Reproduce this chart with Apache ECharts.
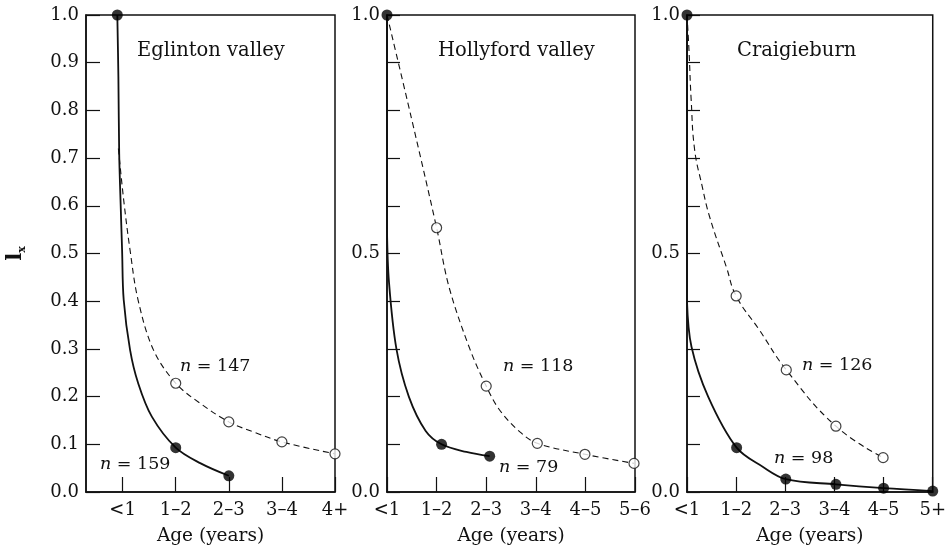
<!DOCTYPE html>
<html>
<head>
<meta charset="utf-8">
<script src="https://cdn.jsdelivr.net/npm/echarts@6/dist/echarts.min.js"></script>
<style>html,body{margin:0;padding:0;background:#fff;}#c{width:949px;height:554px;}</style>
</head>
<body>
<div id="c"></div>
<script>
// ---- tick labels / categories ----
const ageCats1 = ['<1', '1–2', '2–3', '3–4', '4+'];
const ageCats2 = ['<1', '1–2', '2–3', '3–4', '4–5', '5–6'];
const ageCats3 = ['<1', '1–2', '2–3', '3–4', '4–5', '5+'];
const panelTitles = ['Eglinton valley', 'Hollyford valley', 'Craigieburn'];
const yTicks1 = [0, 0.1, 0.2, 0.3, 0.4, 0.5, 0.6, 0.7, 0.8, 0.9, 1.0];
const yLabels23 = [0, 0.5, 1.0];

// ---- Eglinton valley ----
const eglFilled = [[-0.1, 1.0], [1, 0.093], [2, 0.034]];
const eglOpen = [[1, 0.228], [2, 0.147], [3, 0.105], [4, 0.080]];
const eglSolidCurve = [[-0.1, 1.0], [-0.08, 0.87], [-0.065, 0.71], [-0.04, 0.612], [-0.01, 0.507], [0.02, 0.403], [0.14, 0.298], [0.29, 0.229], [0.55, 0.158], [1, 0.093], [1.47, 0.060], [2, 0.034]];
const eglDashCurve = [[-0.08, 0.72], [0.02, 0.612], [0.14, 0.507], [0.29, 0.403], [0.58, 0.298], [1, 0.228], [1.46, 0.186], [2, 0.147], [2.46, 0.126], [3, 0.105], [4, 0.080]];
const eglN = ['147', '159'];

// ---- Hollyford valley ----
const holFilled = [[0, 1.0], [1.1, 0.100], [2.07, 0.075]];
const holOpen = [[1, 0.554], [2, 0.222], [3.03, 0.102], [3.99, 0.079], [4.98, 0.060]];
const holSolidStem = [[0, 1.0], [0, 0.55]];
const holSolidCurve = [[0, 0.55], [0.04, 0.44], [0.19, 0.30], [0.44, 0.20], [0.78, 0.128], [1.1, 0.100], [1.6, 0.084], [2.07, 0.075]];
const holDashCurve = [[0, 1.0], [0.49, 0.785], [1, 0.554], [1.25, 0.43], [1.67, 0.30], [2, 0.222], [2.27, 0.172], [2.68, 0.126], [3.03, 0.102], [3.99, 0.079], [4.98, 0.060]];
const holN = ['118', '79'];

// ---- Craigieburn ----
const craFilled = [[0, 1.0], [1.01, 0.093], [2.01, 0.027], [3.03, 0.016], [4.0, 0.008], [5.0, 0.002]];
const craOpen = [[1.0, 0.411], [2.02, 0.256], [3.03, 0.138], [3.99, 0.072]];
const craSolidStem = [[0, 1.0], [0, 0.40]];
const craSolidCurve = [[0, 0.40], [0.09, 0.305], [0.43, 0.20], [1.01, 0.093], [1.54, 0.053], [2.01, 0.027], [3.03, 0.016], [4.0, 0.008], [5.0, 0.002]];
const craDashCurve = [[0, 1.0], [0.04, 0.927], [0.085, 0.822], [0.156, 0.717], [0.30, 0.645], [0.46, 0.577], [0.8, 0.472], [1.0, 0.411], [1.47, 0.34], [2.02, 0.256], [3.03, 0.138], [3.99, 0.072]];
const craN = ['126', '98'];

// ---- styling ----
const INK = '#111';
const FONT = 'DejaVu Serif';
const baseText = { fontFamily: FONT, fontSize: 18, color: INK };

const grids = [
  { left: 86, right: 614, top: 15, bottom: 62 },
  { left: 387, right: 314, top: 15, bottom: 62 },
  { left: 687, right: 15, top: 15, bottom: 62 }
].map(g => Object.assign(g, { show: true, borderColor: INK, borderWidth: 1.5, backgroundColor: 'transparent' }));

function xAxisFor(i, cats, min, max) {
  const vals = cats.map((_, k) => k);
  return {
    gridIndex: i, type: 'value', min: min, max: max,
    splitLine: { show: false },
    axisLine: { onZero: false, lineStyle: { color: INK, width: 1.5 } },
    axisTick: { inside: true, length: 15, customValues: vals, lineStyle: { color: INK, width: 1.2 } },
    axisLabel: Object.assign({ margin: 9, customValues: vals, formatter: v => cats[Math.round(v)] }, baseText),
    name: 'Age (years)', nameLocation: 'middle', nameGap: 35,
    nameTextStyle: Object.assign({}, baseText, { fontSize: 18.5 })
  };
}

function yAxisFor(i, labelVals, tickLen, withName) {
  const ax = {
    gridIndex: i, type: 'value', min: 0, max: 1, interval: 0.1,
    splitLine: { show: false },
    axisLine: { onZero: false, lineStyle: { color: INK, width: 1.5 } },
    axisTick: { inside: true, length: tickLen, lineStyle: { color: INK, width: 1.2 } },
    axisLabel: Object.assign({ margin: 7, customValues: labelVals, formatter: v => v.toFixed(1) }, baseText)
  };
  if (withName) {
    ax.name = '{l|l}{s|x}';
    ax.nameLocation = 'middle';
    ax.nameGap = 58;
    ax.nameTextStyle = {
      rich: {
        l: { fontFamily: FONT, fontSize: 21, fontWeight: 'bold', color: INK, lineHeight: 24 },
        s: { fontFamily: FONT, fontSize: 11, fontWeight: 'bold', color: INK, lineHeight: 24, verticalAlign: 'bottom', padding: [6, 0, 0, 0] }
      }
    };
  }
  return ax;
}

function curve(i, data, dashed, smooth) {
  return {
    type: 'line', xAxisIndex: i, yAxisIndex: i, data: data,
    smooth: smooth, showSymbol: false, symbol: 'none', clip: false, silent: true, z: 2,
    lineStyle: dashed ? { color: INK, width: 1.1, type: [6, 4] } : { color: INK, width: 1.8 }
  };
}
function dots(i, data, filled) {
  return {
    type: 'scatter', xAxisIndex: i, yAxisIndex: i, data: data, clip: false, silent: true, z: 5,
    symbol: 'circle', symbolSize: filled ? 11 : 10,
    itemStyle: filled ? { color: '#000', borderColor: '#000', borderWidth: 0 } : { color: '#fff', borderColor: INK, borderWidth: 1.2 }
  };
}

const nRich = { rich: { i: { fontFamily: FONT, fontSize: 17.5, fontStyle: 'italic', color: INK } } };
function note(text, left, top) {
  return { text: '{i|n} = ' + text, left: left, top: top, padding: 0,
    textStyle: Object.assign({}, baseText, { fontSize: 17.5, fontWeight: 'normal' }, nRich) };
}
function head(text, left, top) {
  return { text: text, left: left, top: top, padding: 0,
    textStyle: Object.assign({}, baseText, { fontSize: 19.5, fontWeight: 'normal' }) };
}

const option = {
  backgroundColor: '#fff',
  animation: false,
  grid: grids,
  title: [
    head(panelTitles[0], 137, 41), head(panelTitles[1], 438, 41), head(panelTitles[2], 737, 41),
    note(eglN[0], 180, 357), note(eglN[1], 100, 455),
    note(holN[0], 503, 357), note(holN[1], 499, 458),
    note(craN[0], 802, 356), note(craN[1], 774, 449)
  ],
  xAxis: [
    xAxisFor(0, ageCats1, -0.69, 4),
    xAxisFor(1, ageCats2, 0, 5),
    xAxisFor(2, ageCats3, 0, 5)
  ],
  yAxis: [
    yAxisFor(0, yTicks1, 14, true),
    yAxisFor(1, yLabels23, 13, false),
    yAxisFor(2, yLabels23, 13, false)
  ],
  series: [
    curve(0, eglSolidCurve, false, 0.35), curve(0, eglDashCurve, true, 0.35),
    dots(0, eglFilled, true), dots(0, eglOpen, false),
    curve(1, holSolidStem, false, false), curve(1, holSolidCurve, false, 0.35), curve(1, holDashCurve, true, 0.35),
    dots(1, holFilled, true), dots(1, holOpen, false),
    curve(2, craSolidStem, false, false), curve(2, craSolidCurve, false, 0.35), curve(2, craDashCurve, true, 0.45),
    dots(2, craFilled, true), dots(2, craOpen, false)
  ]
};

const chart = echarts.init(document.getElementById('c'), null, { renderer: 'canvas' });
chart.setOption(option);
</script>
</body>
</html>
